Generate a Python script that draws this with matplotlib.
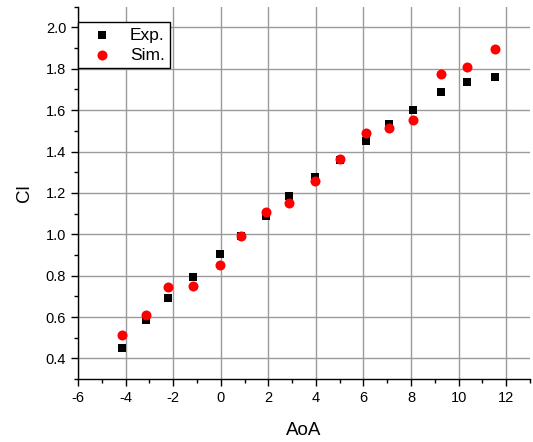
import matplotlib
matplotlib.use("Agg")
import matplotlib.pyplot as plt
from matplotlib.ticker import MultipleLocator

plt.rcParams["font.family"] = ["Liberation Sans", "DejaVu Sans"]
plt.rcParams["axes.unicode_minus"] = False

# angle of attack for each measured point
aoa = [-4.15, -3.16, -2.2, -1.16, -0.04, 0.87, 1.89, 2.88,
       3.95, 5.02, 6.09, 7.08, 8.07, 9.27, 10.37, 11.54]

cl_exp = [0.451, 0.586, 0.692, 0.792, 0.903, 0.993, 1.088, 1.185,
          1.278, 1.359, 1.449, 1.533, 1.600, 1.686, 1.737, 1.758]

cl_sim = [0.512, 0.609, 0.744, 0.752, 0.852, 0.993, 1.109, 1.150,
          1.259, 1.366, 1.488, 1.513, 1.554, 1.774, 1.808, 1.895]

fig = plt.figure(figsize=(5.33, 4.42), dpi=100)
ax = fig.add_axes([0.1463, 0.1421, 0.8481, 0.8429])

ax.scatter(aoa, cl_exp, marker="s", s=34, color="black",
           label="Exp.", zorder=3, linewidths=0)
ax.scatter(aoa, cl_sim, marker="o", s=52, color="red",
           label="Sim.", zorder=4, linewidths=0)

ax.set_xlim(-6, 13)
ax.set_ylim(0.3, 2.1)
ax.xaxis.set_major_locator(MultipleLocator(2))
ax.xaxis.set_minor_locator(MultipleLocator(1))
ax.yaxis.set_major_locator(MultipleLocator(0.2))
ax.yaxis.set_minor_locator(MultipleLocator(0.1))
ax.yaxis.set_major_formatter(plt.FormatStrFormatter("%.1f"))

ax.grid(True, which="major", color="#9a9a9a", linewidth=1.0)
ax.set_axisbelow(True)

for side in ["top", "right"]:
    ax.spines[side].set_visible(False)
for side in ["left", "bottom"]:
    ax.spines[side].set_linewidth(1.0)
    ax.spines[side].set_color("black")

ax.tick_params(which="major", direction="out", length=5, width=1,
               labelsize=10.5, pad=3.5)
ax.tick_params(which="minor", direction="out", length=3, width=1)

ax.set_xlabel("AoA", fontsize=13.5, labelpad=12)
ax.set_ylabel("Cl", fontsize=13.5, labelpad=9)

leg = ax.legend(loc="upper left", bbox_to_anchor=(0.0, 0.958),
                borderaxespad=0, fancybox=False, framealpha=1,
                edgecolor="black", fontsize=12.5, handletextpad=0.5,
                labelspacing=0.3, borderpad=0.3, handlelength=2.2)
leg.get_frame().set_linewidth(1.0)

fig.savefig("out.png", dpi=100)
